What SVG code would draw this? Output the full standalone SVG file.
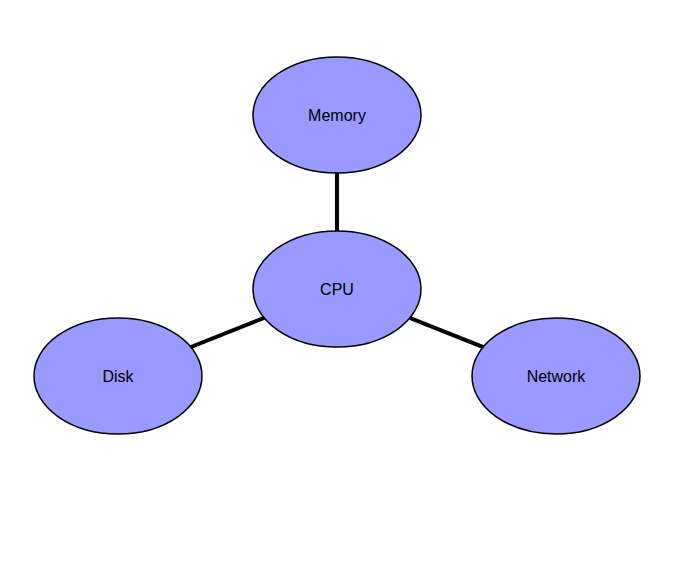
<svg xmlns="http://www.w3.org/2000/svg" width="675" height="578" viewBox="0 0 675 578">
<style>
.node ellipse{fill:#9999ff;stroke:#000;stroke-width:1.5}
.node text{font-family:"Liberation Sans",Arial,sans-serif;font-size:16px;fill:#000;text-anchor:middle;dominant-baseline:central}
.edges line{stroke:#000;stroke-width:4}
</style>
<rect width="675" height="578" fill="#fff"/>
<g id="edges" class="edges">
<line x1="337" y1="115" x2="337" y2="289"/>
<line x1="337" y1="289" x2="118" y2="376"/>
<line x1="337" y1="289" x2="556" y2="376"/>
</g>
<g id="memory" class="node"><ellipse cx="337" cy="115" rx="84" ry="58"/><text x="337" y="115">Memory</text></g>
<g id="cpu" class="node"><ellipse cx="337" cy="289" rx="84" ry="58"/><text x="337" y="289">CPU</text></g>
<g id="disk" class="node"><ellipse cx="118" cy="376" rx="84" ry="58"/><text x="118" y="376">Disk</text></g>
<g id="network" class="node"><ellipse cx="556" cy="376" rx="84" ry="58"/><text x="556" y="376">Network</text></g>
</svg>
